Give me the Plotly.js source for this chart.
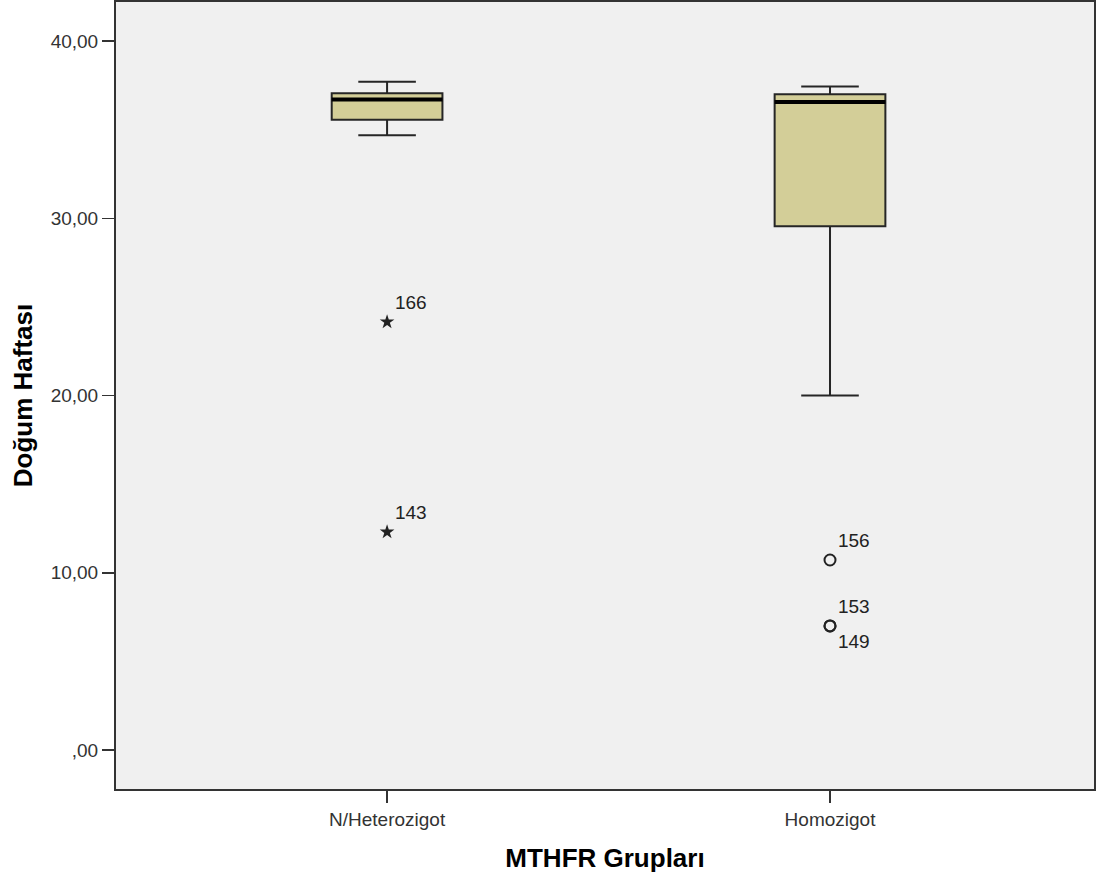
<!DOCTYPE html>
<html>
<head>
<meta charset="utf-8">
<script src="https://cdn.plot.ly/plotly-3.0.1.min.js"></script>
<style>html,body{margin:0;padding:0;background:#fff;}#chart{width:1104px;height:879px;}</style>
</head>
<body>
<div id="chart"></div>
<script>
// Categories
const groups = ["N/Heterozigot", "Homozigot"];
// Box statistics (Doğum Haftası)
const q1Vals = [35.55, 29.55];
const medianVals = [36.7, 36.56];
const q3Vals = [37.05, 37.0];
const lowerWhisker = [34.68, 20.0];
const upperWhisker = [37.7, 37.43];
// Extreme values (stars)
const extremeGroup = ["N/Heterozigot", "N/Heterozigot"];
const extremeVals = [24.15, 12.3];
const extremeIds = ["166", "143"];
// Outliers (circles)
const outlierGroup = ["Homozigot", "Homozigot", "Homozigot"];
const outlierVals = [10.72, 7.0, 7.0];
const outlierIds = ["156", "153", "149"];
const outlierTextPos = ["top right", "top right", "bottom right"];
// Y ticks
const yTickVals = [0, 10, 20, 30, 40];
const yTickText = [",00", "10,00", "20,00", "30,00", "40,00"];

const FONT = "Liberation Sans, Arial, sans-serif";

const traces = [
  {
    type: "box",
    x: groups,
    q1: q1Vals,
    median: medianVals,
    q3: q3Vals,
    lowerfence: lowerWhisker,
    upperfence: upperWhisker,
    width: 0.25,
    whiskerwidth: 0.52,
    fillcolor: "#d3ce98",
    line: {color: "#262626", width: 2},
    boxpoints: false,
    hoverinfo: "skip",
    showlegend: false
  },
  {
    type: "box",
    x: groups,
    q1: medianVals,
    median: medianVals,
    q3: medianVals,
    lowerfence: medianVals,
    upperfence: medianVals,
    width: 0.25,
    whiskerwidth: 0,
    fillcolor: "rgba(0,0,0,0)",
    line: {color: "#000000", width: 4},
    boxpoints: false,
    hoverinfo: "skip",
    showlegend: false
  },
  {
    type: "scatter",
    mode: "markers+text",
    x: extremeGroup,
    y: extremeVals,
    text: extremeIds,
    textposition: "top right",
    textfont: {family: FONT, size: 19, color: "#222"},
    marker: {symbol: "star", size: 11, color: "#222"},
    hoverinfo: "skip",
    showlegend: false
  },
  {
    type: "scatter",
    mode: "markers+text",
    x: outlierGroup,
    y: outlierVals,
    text: outlierIds,
    textposition: outlierTextPos,
    textfont: {family: FONT, size: 19, color: "#222"},
    marker: {symbol: "circle-open", size: 11, color: "#222", line: {width: 2, color: "#222"}},
    hoverinfo: "skip",
    showlegend: false
  }
];

const layout = {
  width: 1104,
  height: 879,
  margin: {l: 116, r: 10, t: 2, b: 90},
  paper_bgcolor: "#ffffff",
  plot_bgcolor: "#f0f0f0",
  font: {family: FONT, color: "#333"},
  xaxis: {
    type: "category",
    categoryorder: "array",
    categoryarray: groups,
    range: [-0.612, 1.596],
    showgrid: false,
    zeroline: false,
    showline: true,
    mirror: true,
    linecolor: "#333",
    linewidth: 2,
    ticks: "outside",
    ticklen: 12,
    tickwidth: 1.5,
    tickcolor: "#333",
    tickfont: {family: FONT, size: 19, color: "#333"},
    title: {text: "MTHFR Grupları", font: {family: FONT, size: 26, color: "#000", weight: "bold"}, standoff: 20},
    automargin: false
  },
  yaxis: {
    range: [-2.2, 42.2],
    tickvals: yTickVals,
    ticktext: yTickText,
    showgrid: false,
    zeroline: false,
    showline: true,
    mirror: true,
    linecolor: "#333",
    linewidth: 2,
    ticks: "outside",
    ticklen: 12,
    tickwidth: 1.5,
    tickcolor: "#333",
    tickfont: {family: FONT, size: 19, color: "#333"},
    title: {text: "Doğum Haftası", font: {family: FONT, size: 26, color: "#000", weight: "bold"}, standoff: 11},
    automargin: false
  }
};

Plotly.newPlot("chart", traces, layout, {displayModeBar: false, staticPlot: true});
</script>
</body>
</html>
